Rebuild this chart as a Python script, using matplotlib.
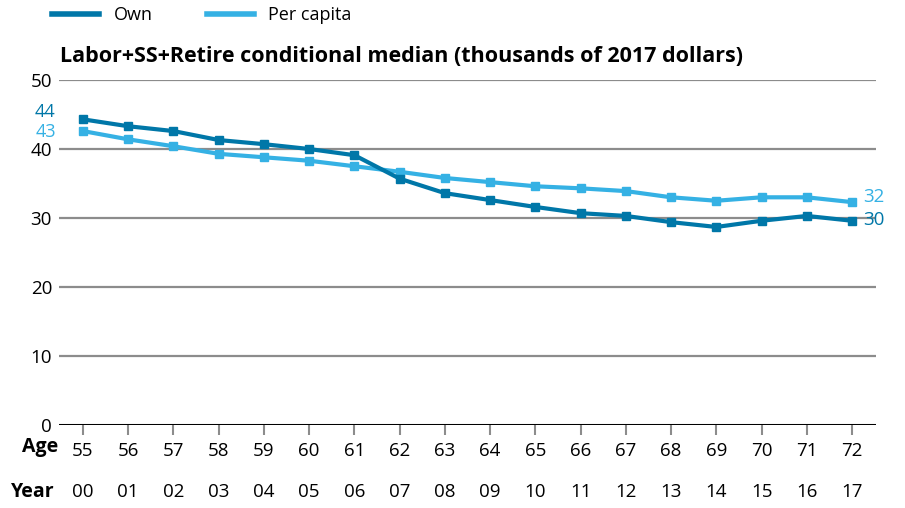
import matplotlib
matplotlib.use("Agg")
import matplotlib.pyplot as plt
import matplotlib.transforms as mtransforms
from matplotlib.lines import Line2D

plt.rcParams['font.family'] = ['Open Sans', 'DejaVu Sans']

ages = [55, 56, 57, 58, 59, 60, 61, 62, 63, 64, 65, 66, 67, 68, 69, 70, 71, 72]
years = ["00", "01", "02", "03", "04", "05", "06", "07", "08", "09",
         "10", "11", "12", "13", "14", "15", "16", "17"]
own = [44.3, 43.3, 42.6, 41.3, 40.7, 40.0, 39.1, 35.7, 33.6, 32.6,
       31.6, 30.7, 30.3, 29.4, 28.7, 29.6, 30.3, 29.6]
per_capita = [42.6, 41.4, 40.4, 39.3, 38.8, 38.3, 37.5, 36.7, 35.8, 35.2,
              34.6, 34.3, 33.9, 33.0, 32.5, 33.0, 33.0, 32.3]
title = "Labor+SS+Retire conditional median (thousands of 2017 dollars)"
yticks = [0, 10, 20, 30, 40, 50]

c_own = "#0077A8"
c_pc = "#35B1E4"

fig = plt.figure(figsize=(9.05, 5.08), dpi=100)
ax = fig.add_axes([0.0652, 0.1634, 0.9028, 0.6791])
x = list(range(len(ages)))

ax.set_ylim(0, 50)
ax.set_xlim(-0.53, len(ages) - 1 + 0.53)
ax.set_yticks(yticks)
for yv in yticks[1:]:
    ax.axhline(yv, color="#8c8c8c", lw=1.6, zorder=1)
ax.axhline(0, color="black", lw=2.2, zorder=2)

ax.plot(x, per_capita, color=c_pc, lw=3, marker="s", ms=6, zorder=3)
ax.plot(x, own, color=c_own, lw=3, marker="s", ms=6, zorder=4)

for s in ax.spines.values():
    s.set_visible(False)
ax.tick_params(axis="y", length=0, labelsize=13.5, pad=5)
ax.set_xticks(x)
ax.set_xticklabels([str(a) for a in ages], fontsize=13.5)
ax.tick_params(axis="x", length=7, width=1.5, color="#8c8c8c", pad=5, direction="out")

trans = mtransforms.blended_transform_factory(ax.transData, fig.transFigure)
for xi, yr in zip(x, years):
    ax.text(xi, 1 - 492 / 508, yr, transform=trans, ha="center", va="center", fontsize=13.5)
fig.text(40 / 905, 1 - 447 / 508, "Age", ha="center", va="center", fontsize=14, fontweight="bold")
fig.text(33 / 905, 1 - 492 / 508, "Year", ha="center", va="center", fontsize=14, fontweight="bold")

# end labels
ax.text(-0.6, own[0] + 1.0, f"{own[0]:.0f}", color=c_own, ha="right", va="center", fontsize=13)
ax.text(-0.6, per_capita[0] - 0.2, f"{per_capita[0]:.0f}", color=c_pc, ha="right", va="center", fontsize=13)
ax.text(len(ages) - 1 + 0.25, per_capita[-1] + 0.8, f"{per_capita[-1]:.0f}", color=c_pc, ha="left", va="center", fontsize=13.5)
ax.text(len(ages) - 1 + 0.25, own[-1] + 0.1, f"{own[-1]:.0f}", color=c_own, ha="left", va="center", fontsize=13.5)

fig.text(60 / 905, 1 - 57 / 508, title, ha="left", va="center", fontsize=15.5, fontweight="bold")

handles = [Line2D([0], [0], color=c_own, lw=4), Line2D([0], [0], color=c_pc, lw=4)]
fig.legend(handles, ["Own", "Per capita"], loc="center left", bbox_to_anchor=(52 / 905, 1 - 15 / 508),
           ncol=2, frameon=False, fontsize=13, handlelength=2.6, columnspacing=3.0, handletextpad=0.8,
           borderaxespad=0, borderpad=0)

fig.savefig("out.png", dpi=100)
